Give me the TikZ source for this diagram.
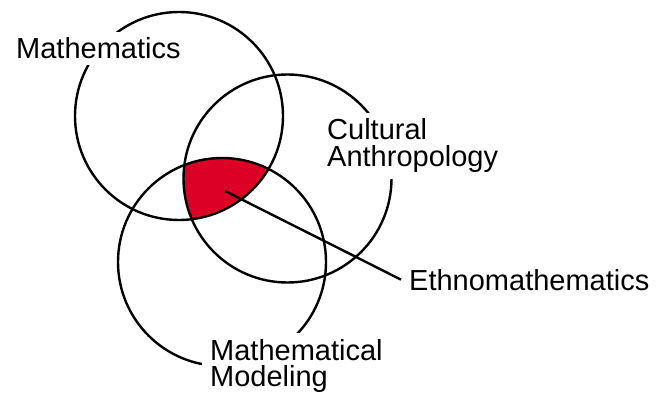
\documentclass[tikz,border=0pt]{standalone}
\usepackage{fontspec}
\setmainfont{Liberation Sans}
\definecolor{ethnored}{RGB}{221,0,38}
\begin{document}
\begin{tikzpicture}[x=1pt,y=-1pt,
  ring/.style={draw=black,line width=2.4pt},
  lbl/.style={fill=white,inner xsep=8pt,inner ysep=6pt,align=left,
    font=\fontsize{29}{26.5}\selectfont},
  leader/.style={draw=black,line width=2.4pt}]
\useasboundingbox (0,0) rectangle (659,393);
\coordinate (cM) at (179,116);
\coordinate (cA) at (287.5,178.5);
\coordinate (cD) at (222,262);
\begin{scope}
  \clip (cM) circle (104);
  \clip (cA) circle (104);
  \fill[ethnored] (cD) circle (104);
\end{scope}
\draw[ring] (cM) circle (104);
\draw[ring] (cA) circle (104);
\draw[ring] (cD) circle (104);
\node[lbl,anchor=base west] (math) at (8,59) {Mathematics};
\node[lbl,anchor=base west] (anth) at (319,166.5) {Cultural\\Anthropology};
\node[lbl,anchor=base west] (model) at (202,386.5) {Mathematical\\Modeling};
\node[lbl,anchor=base west] (ethno) at (401,290) {Ethnomathematics};
\coordinate (core) at (225,191);
\draw[leader] (core) -- (ethno.west);
\end{tikzpicture}
\end{document}
